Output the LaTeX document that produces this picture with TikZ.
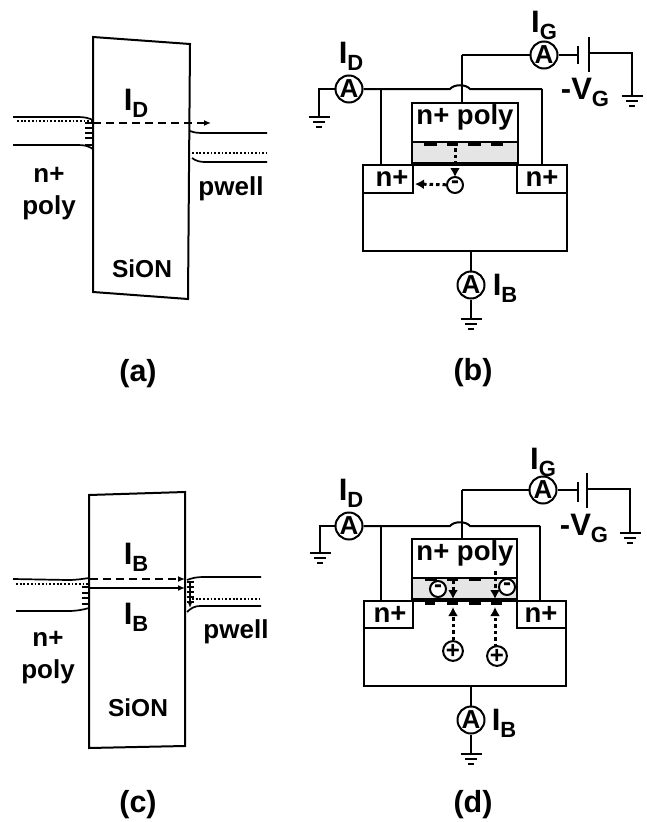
\documentclass[tikz,border=0pt]{standalone}
\usepackage{fontspec}
\setmainfont{Liberation Sans}
\usetikzlibrary{arrows.meta}
\newcommand{\curr}[2]{{\fontsize{31}{31}\selectfont #1}{\fontsize{22}{22}\selectfont\raisebox{-7pt}{#2}}}
\newcommand{\amp}{\raisebox{-3pt}{A}}
\tikzset{
  wire/.style={line width=2pt},
  band/.style={line width=1.7pt},
  fermi/.style={line width=1.7pt,dash pattern=on 1.8pt off 1.9pt},
  hop/.style={line width=1.7pt,-{Latex[length=7pt,width=6pt]}},
  flow/.style={line width=3pt,dash pattern=on 3.5pt off 3pt,-{Latex[length=9pt,width=10pt]}},
  txt/.style={inner sep=0pt,font=\bfseries\fontsize{26}{26}\selectfont},
  devtxt/.style={inner sep=0pt,font=\bfseries\fontsize{27.5}{27.5}\selectfont},
  paneltxt/.style={inner sep=0pt,font=\bfseries\fontsize{30.5}{30.5}\selectfont},
  cur/.style={inner sep=0pt,font=\bfseries},
  meter/.style={circle,draw,line width=2pt,minimum size=27pt,inner sep=0pt,fill=white,font=\bfseries\fontsize{26}{26}\selectfont},
  ion/.style={circle,draw,line width=2pt,minimum size=16pt,inner sep=0pt,fill=white,font=\bfseries\fontsize{24}{24}\selectfont},
  gnd/.pic={\draw[wire] (-10.5,0) -- (10.5,0) (-6,5) -- (6,5) (-3,10) -- (3,10);}
}
\begin{document}
\begin{tikzpicture}[x=1pt,y=-1pt]
  \useasboundingbox (0,0) rectangle (646,822);

  % (a)
  \draw[wire] (93,37) -- (190,44) -- (188,299) -- (93,292) -- cycle;
  \draw[band] (13,117) -- (78,117) .. controls (85,117) and (88,118) .. (93,120);
  \draw[band] (13,145) -- (78,145) .. controls (85,145) and (88,146) .. (93,149);
  \draw[fermi] (17,121) -- (93,121);
  \draw[band] (85,123) -- (93,123) (85,128) -- (93,128) (85,133) -- (93,133) (85,138) -- (93,138) (85,145) -- (93,145);
  \draw[band] (190,131) .. controls (195,133) and (199,133) .. (205,133) -- (267,133);
  \draw[band] (192,158) .. controls (196,161) and (200,162) .. (205,162) -- (267,162);
  \draw[fermi] (192,153) -- (267,153);
  \draw[hop,dash pattern=on 8pt off 5pt] (93,123) -- (211,123);
  \node[cur] (ida) at (136,103) {\curr{I}{D}};
  \node[txt] (npa) at (49,175) {n+};
  \node[txt] (polya) at (49,208) {poly};
  \node[txt] (pwa) at (231,189) {pwell};
  \node[txt,font=\bfseries\fontsize{24.5}{24.5}\selectfont] (siona) at (142,269) {SiON};
  \node[paneltxt] (capa) at (138,374) {(a)};

  % (b)
  \filldraw[wire,fill=black!10] (412,142) rectangle (518,163);
  \draw[wire] (412,103) rectangle (518,142);
  \draw[wire] (363,165) rectangle (567,251);
  \draw[wire] (363,193) -- (413,193) -- (413,165);
  \draw[wire] (567,193) -- (517,193) -- (517,165);
  \node[devtxt] (polyb) at (465,117) {n+ poly};
  \node[devtxt] (nlb) at (392,178) {n+};
  \node[devtxt] (nrb) at (542,178) {n+};
  \node[meter] (adb) at (349,89) {\amp};
  \node[meter] (agb) at (544,55) {\amp};
  \node[meter] (abb) at (471,285) {\amp};
  \node[cur] (idb) at (351,56) {\curr{I}{D}};
  \node[cur] (igb) at (544,25) {\curr{I}{G}};
  \node[cur] (vgb) at (585,92) {\curr{-V}{G}};
  \node[cur] (ibb) at (505,288) {\curr{I}{B}};
  \coordinate (gdb) at (319,117);
  \coordinate (ggb) at (632,96);
  \coordinate (gbb) at (471,319);
  \coordinate (hlb) at (450,89);
  \coordinate (hrb) at (470,89);
  \coordinate (eb) at (381,89);
  \coordinate (fb) at (542,89);
  \coordinate (jb) at (462,55);
  \coordinate (p1b) at (578,46);
  \coordinate (p2b) at (578,64);
  \coordinate (p3b) at (589,37);
  \coordinate (p4b) at (589,72);
  \coordinate (pwb) at (589,53);
  \coordinate (subb) at (471,251);
  \draw[wire] (adb) -| (gdb);
  \draw[wire] (adb) -- (hlb) .. controls +(4,-5) and +(-4,-5) .. (hrb) -- (fb);
  \draw[wire] (eb) -- (381,165);
  \draw[wire] (fb) -- (542,165);
  \draw[wire] (jb) -- (462,103);
  \draw[wire] (jb) -- (agb);
  \draw[wire] (agb) -- (agb -| p1b);
  \draw[wire] (p1b) -- (p2b);
  \draw[wire] (p3b) -- (p4b);
  \draw[wire] (pwb) -| (ggb);
  \draw[wire] (subb) -- (abb);
  \draw[wire] (abb) -- (gbb);
  \pic at (gdb) {gnd};
  \pic at (ggb) {gnd};
  \pic at (gbb) {gnd};
  \draw[line width=3pt] (424,144) -- (437,144) (447,144) -- (458,144) (468,144) -- (481,144) (491,144) -- (503,144);
  \node[ion] (eb1) at (455,185) {-};
  \draw[flow] (455,148) -- (455,177);
  \draw[flow] (eb1) -- (415,184);
  \node[paneltxt] (capb) at (473,373) {(b)};

  % (c)
  \draw[wire] (89,495) -- (185,492) -- (185,746) -- (89,748) -- cycle;
  \draw[band] (13,579) -- (68,580) .. controls (76,580) and (82,579) .. (89,578);
  \draw[band] (16,611) -- (68,611) .. controls (76,611) and (82,610) .. (89,608);
  \draw[fermi] (16,584) -- (89,584);
  \draw[band] (82,587) -- (90,587) (82,593) -- (90,593) (82,598) -- (90,598) (82,604) -- (90,604);
  \draw[band] (187,580) .. controls (192,578) and (197,577) .. (203,577) -- (261,577);
  \draw[band] (187,612) .. controls (191,608) and (195,606) .. (200,606) -- (261,606);
  \draw[fermi] (192,599) -- (261,599);
  \draw[band] (187,582) -- (194,582) (187,587) -- (194,587) (187,592) -- (194,592) (187,597) -- (194,597) (187,602) -- (194,602);
  \draw[hop,dash pattern=on 8pt off 5pt] (90,579) -- (185,579);
  \draw[hop] (90,588) -- (185,588);
  \draw[hop] (190,583) -- (190,608);
  \node[cur] (ibc1) at (136,557) {\curr{I}{B}};
  \node[cur] (ibc2) at (136,617) {\curr{I}{B}};
  \node[txt] (npc) at (48,639) {n+};
  \node[txt] (polyc) at (48,672) {poly};
  \node[txt] (pwc) at (236,632) {pwell};
  \node[txt,font=\bfseries\fontsize{24.5}{24.5}\selectfont] (sionc) at (138,708) {SiON};
  \node[paneltxt] (capc) at (138,805) {(c)};

  % (d)
  \filldraw[wire,fill=black!10] (412,578) rectangle (517,599);
  \draw[wire] (412,539) rectangle (517,578);
  \draw[wire] (364,601) rectangle (566,686);
  \draw[wire] (364,628) -- (413,628) -- (413,601);
  \draw[wire] (566,628) -- (517,628) -- (517,601);
  \node[devtxt] (polyd) at (465,553) {n+ poly};
  \node[devtxt] (nld) at (390,614) {n+};
  \node[devtxt] (nrd) at (541,614) {n+};
  \node[meter] (add) at (349,526) {\amp};
  \node[meter] (agd) at (543,490) {\amp};
  \node[meter] (abd) at (471,720) {\amp};
  \node[cur] (idd) at (351,493) {\curr{I}{D}};
  \node[cur] (igd) at (543,462) {\curr{I}{G}};
  \node[cur] (vgd) at (584,528) {\curr{-V}{G}};
  \node[cur] (ibd) at (504,723) {\curr{I}{B}};
  \coordinate (gdd) at (320,553);
  \coordinate (ggd) at (630,533);
  \coordinate (gbd) at (471,754);
  \coordinate (hld) at (450,526);
  \coordinate (hrd) at (470,526);
  \coordinate (ed) at (381,526);
  \coordinate (fd) at (540,526);
  \coordinate (jd) at (462,490);
  \coordinate (p1d) at (578,482);
  \coordinate (p2d) at (578,502);
  \coordinate (p3d) at (587,473);
  \coordinate (p4d) at (587,508);
  \coordinate (pwd) at (587,489);
  \coordinate (subd) at (471,686);
  \draw[wire] (add) -| (gdd);
  \draw[wire] (add) -- (hld) .. controls +(4,-5) and +(-4,-5) .. (hrd) -- (fd);
  \draw[wire] (ed) -- (381,601);
  \draw[wire] (fd) -- (540,601);
  \draw[wire] (jd) -- (462,539);
  \draw[wire] (jd) -- (agd);
  \draw[wire] (agd) -- (agd -| p1d);
  \draw[wire] (p1d) -- (p2d);
  \draw[wire] (p3d) -- (p4d);
  \draw[wire] (pwd) -| (ggd);
  \draw[wire] (subd) -- (abd);
  \draw[wire] (abd) -- (gbd);
  \pic at (gdd) {gnd};
  \pic at (ggd) {gnd};
  \pic at (gbd) {gnd};
  \draw[line width=3pt] (425,579) -- (437,579) (447,579) -- (458,579) (469,579) -- (481,579);
  \draw[line width=3pt] (425,603) -- (435,603) (447,603) -- (458,603) (469,603) -- (481,603) (491,603) -- (502,603);
  \node[ion] (ed1) at (438,589) {-};
  \node[ion] (ed2) at (507,587) {-};
  \node[ion] (hd1) at (453,651) {+};
  \node[ion] (hd2) at (497,656) {+};
  \draw[flow] (453,580) -- (453,599);
  \draw[flow] (495,571) -- (495,599);
  \draw[flow] (hd1) -- (453,607);
  \draw[flow] (495,647) -- (495,607);
  \node[paneltxt] (capd) at (473,805) {(d)};
\end{tikzpicture}
\end{document}
